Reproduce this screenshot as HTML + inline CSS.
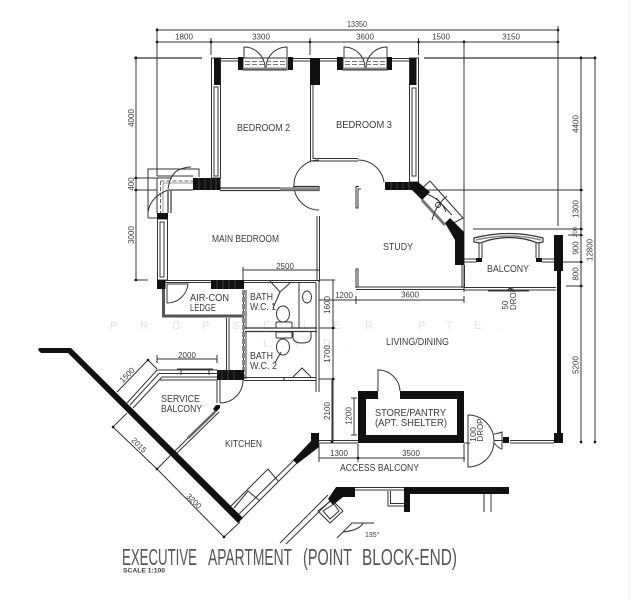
<!DOCTYPE html>
<html><head><meta charset="utf-8"><style>
html,body{margin:0;padding:0;background:#fff}
svg{display:block;filter:blur(.35px)}
text{font-family:"Liberation Sans",sans-serif;fill:#3c3c3c}
.r{font-size:10px}
.d{font-size:8px}
.t{font-size:23px;fill:#555}
</style></head><body>
<svg width="630" height="600" viewBox="0 0 630 600" xmlns="http://www.w3.org/2000/svg">
<rect width="630" height="600" fill="#fff"/>
<line x1="629.5" y1="0" x2="629.5" y2="600" stroke="#eee"/>
<!-- watermark -->
<text x="110 140 172 202 232 263 293 303 333 365 418 446 474 500" y="329" font-size="11" style="fill:#e2e2e2">PROPSELLERPTE.</text>
<text x="263 293 323 347" y="347" font-size="11" style="fill:#e2e2e2">LTD.</text>

<!-- dimension lines -->
<g stroke="#333" stroke-width="1" fill="none">
<path d="M157 30H558M157 42H558M157 28V176M558 26V226M464 40V292M211 38V55M310 38V55M418.500 38V55"/>
<path d="M134 58H202M424 58H595" stroke-width="1.300"/>
<path d="M136 56V280M134 178H172M134 190H157M134 280H148"/>
<path d="M581 56V442M595 56V442M426 190H583M473 229H583M568 235H583M556 262H583M566 286H583"/>
<path d="M243 270H319M243 267V283M333 280V442M319 280H335M319 328H335M319 379H335M319 300H356M356 296V304M356 300H464M464 296V303M332 440V380"/>
<path d="M319 458H465M319 444V462M358 444V462M464 444V462M354 398V435M351 398H357M351 435H357"/>
<path d="M157 359H217M157 355V363M217 355V363M148 360L117 392M148 360L157 369M113 427L157 469L224 537M113 427L127 413M157 469L173 453M224 537L240 522"/>
<path d="M337 538L352 523H374M343 532Q360 530 363 523"/>
</g>
<g fill="#111">
<circle cx="157" cy="30" r="1.300"/><circle cx="157" cy="42" r="1.300"/><circle cx="558" cy="30" r="1.300"/><circle cx="558" cy="42" r="1.300"/><circle cx="464" cy="42" r="1.300"/><circle cx="211" cy="42" r="1.300"/><circle cx="310" cy="42" r="1.300"/><circle cx="418.500" cy="42" r="1.300"/>
<circle cx="136" cy="58" r="1.300"/><circle cx="136" cy="178" r="1.300"/><circle cx="136" cy="190" r="1.300"/><circle cx="136" cy="280" r="1.300"/>
<circle cx="581" cy="58" r="1.300"/><circle cx="595" cy="58" r="1.300"/><circle cx="581" cy="190" r="1.300"/><circle cx="581" cy="229" r="1.300"/><circle cx="581" cy="235" r="1.300"/><circle cx="581" cy="262" r="1.300"/><circle cx="581" cy="286" r="1.300"/><circle cx="581" cy="442" r="1.300"/><circle cx="595" cy="442" r="1.300"/>
<circle cx="333" cy="328" r="1.300"/><circle cx="333" cy="379" r="1.300"/><circle cx="332" cy="442" r="1.300"/><circle cx="358" cy="458" r="1.300"/><circle cx="157" cy="469" r="1.300"/><circle cx="113" cy="427" r="1.300"/><circle cx="224" cy="537" r="1.300"/><circle cx="148" cy="360" r="1.300"/>
</g>

<!-- wall lines -->
<g stroke="#333" stroke-width="1" fill="none">
<!-- top walls -->
<path d="M220 58.500H238M220 61H238M293 58.500H310M293 61H310M320 58.500H337M320 61H337M392 58.500H410M392 61H410"/>
<rect x="243" y="58" width="44" height="12"/><rect x="343" y="58" width="44" height="12"/>
<path d="M244 58V47A21 21 0 0 1 265 68M287 58V47A21 21 0 0 0 266 68M344 58V47A21 21 0 0 1 365 68M387 58V47A21 21 0 0 0 366 68"/>
<path d="M245 61.500H286M245 64.500H286M345 61.500H386M345 64.500H386" stroke-dasharray="5 2" stroke="#777"/>
<path d="M243 68.500H287M343 68.500H387" stroke="#888" stroke-width="2"/>
<!-- side windows -->
<rect x="211.500" y="58" width="9" height="120"/><rect x="214" y="87" width="4" height="89"/>
<rect x="409.500" y="58" width="9" height="124"/><rect x="412" y="88" width="4" height="88"/>
<!-- bedroom divide -->
<path d="M310.500 85V161H358M313 85V158.500H358"/>
<path d="M319 160A25 25 0 0 0 319 210M358 160A26 26 0 0 1 384 182"/>
<path d="M220 188H293M220 190.500H319V186.500H293" stroke-width="1.200"/>
<path d="M280 189H319" stroke="#888" stroke-width="3"/>
<path d="M359 186.500H356V208H358V189H361M356 288V269H358V287"/>
<path d="M317 216V280M319.500 216V282"/>
<!-- NW corner -->
<path d="M148 218V169H199V177M148 218H168"/>
<path d="M157 176H193M157 178V213"/>
<path d="M168 191V213M171 190V213M168 190H193" stroke="#666" stroke-width="1.600"/>
<path d="M160.500 181V213M160.500 181H193" stroke="#666" stroke-dasharray="4 2"/>
<path d="M163 183H193M163 183V213" stroke="#999"/>
<path d="M191 167C175 168 170 175 168 189M148 212C150 200 158 194 168 190"/>
<rect x="157.500" y="219" width="10" height="61"/><rect x="160" y="222" width="4" height="55"/>
<!-- air con -->
<path d="M165 280.500H319M165 282.500H316" stroke-width="1"/>
<path d="M167 303V284H188A21 21 0 0 1 167 303"/>
<path d="M163.500 289V316H244" stroke="#555" stroke-width="3"/>
<path d="M179 317H205" stroke="#444" stroke-dasharray="2 1"/>
<!-- bath -->
<path d="M243.500 290V380M246 290V329M246 332V379" stroke-width="1"/>
<path d="M243.500 290V380" stroke="#888" stroke-width="3" stroke-dasharray="5 2"/>
<path d="M316 283V392M319 280V392M299 283V328"/>
<path d="M245 328H317M245 331.500H317" stroke-width="1.200"/>
<path d="M226.500 318V370M229 318V370"/>
<ellipse cx="307" cy="297" rx="4.500" ry="6"/>
<path d="M270 281L280 292 290 283M280 292L273 308"/>
<ellipse cx="283" cy="314" rx="6.500" ry="8" fill="#fff"/>
<rect x="276" y="322" width="16" height="6" rx="1" fill="#fff"/>
<rect x="276" y="332" width="16" height="6" rx="1" fill="#fff"/>
<ellipse cx="283" cy="347" rx="6.500" ry="8" fill="#fff"/>
<path d="M293 331V337Q293 343 302 343Q311 343 311 337V331"/>
<path d="M275 363L281 352"/>
<path d="M293 377L302 368 311 377"/>
<path d="M244 377.500H316M244 380.500H316M284 378V381" stroke-width="1.100"/>
<!-- service balcony -->
<path d="M217 370H157L127 403M217 373.500H159L130 405M217 377H162L133 408M217 380H160"/>
<path d="M177 369.500H213" stroke="#333" stroke-width="2"/>
<path d="M181 370V375M209 370V375"/>
<path d="M217 380V403M220 380V403"/>
<path d="M243 380A23 23 0 0 1 220 403"/>
<path d="M216 410L174 452M219 412L177 453"/>
<path d="M215 412L188 438" stroke="#666" stroke-width="2.500"/>
<!-- kitchen SE -->
<path d="M242 518L297 463M239 514L295 459M231 506L268 469L278 481M234 508L248 491L260 501"/>
<!-- access balcony -->
<path d="M319 440.500H358M319 443H358M470 440.500H508M510 440.500H554M510 443H554"/>
<path d="M378 391V370A22 22 0 0 1 400 391"/>
<!-- drop door -->
<path d="M468 415A26 26 0 0 1 468 467ZM468 415V467" fill="#fff"/>
<path d="M494 434Q500 433 502 432V449Q498 448 494 443"/>
<path d="M464 443H470"/>
<!-- NE bay window -->
<path d="M430 181L463 218L450 225M430 181L421 189M436 198L452 215"/>
<path d="M422 200L445 225" stroke="#777" stroke-width="3"/>
<path d="M427 194Q442 200 446 212M447 196Q436 205 432 220"/>
<circle cx="438" cy="205" r="2.500"/>
<!-- study -->
<path d="M356 287H464M356 289.500H464M462 265V288M464.500 265V288M464 287.500H556M464 290H556"/>
<path d="M464 259H476M464 262H476M542 259H554M542 262H554"/>
<path d="M479 243V258M482 243V258M536 243V258M539 243V258"/>
<path d="M488 291H529M507 291Q510 286 513 291"/>
<!-- balcony rail -->
<path d="M474 238V242L480 243Q509 232 538 243L543 242V238Q509 229 474 238Z" fill="#fff" stroke-width="1.200"/>
<path d="M476 240Q509 232 541 240" stroke="#888" stroke-width="1.500"/>
<!-- bottom fragment -->
<path d="M350 487.500H404M350 490H404M388 491V506H404M390.500 491V503.500H404M484 494V512M491 494V512"/>
<path d="M328 495L280 543M332 499L286 544"/>
<path d="M332 500L343 511L330 523L318 511Z"/>
<path d="M334 504L339 511L330 519L323 511Z"/>
</g>

<!-- solid black -->
<g fill="#111">
<rect x="214" y="58" width="6.500" height="27"/>
<rect x="238" y="57" width="5" height="13"/><rect x="288" y="57" width="5" height="13"/>
<rect x="337" y="57" width="5.500" height="13"/><rect x="387" y="57" width="5" height="13"/>
<rect x="310" y="58" width="10" height="27"/>
<rect x="410" y="58" width="6.500" height="27"/>
<rect x="193" y="178" width="27.500" height="12"/>
<rect x="157" y="213" width="11" height="6"/>
<rect x="157" y="280" width="8.500" height="9"/>
<rect x="211" y="280" width="33" height="9"/>
<rect x="217" y="370" width="27" height="10"/>
<polygon points="385,182 418,182 430,192 422,200 412,190 385,190"/>
<polygon points="445,223 450,218 464,232 464,265 455,265 455,240"/>
<polygon points="216,405 220,405 220,408 216,412 213,409"/>
<rect x="476" y="258" width="6" height="4"/><rect x="536" y="258" width="6" height="4"/>
<rect x="554" y="235" width="9" height="36"/>
<rect x="557" y="271" width="4" height="163"/>
<rect x="554" y="433" width="9" height="10"/>
<rect x="503" y="437" width="6" height="6"/>
<polygon points="39,348 71,348 243,518 238,523 68,353 41,353 38,350"/>
<polygon points="311,433 319,433 319,447 297,464 293,460 311,441"/>
<path d="M358 391H378V399H366V435H457V399H400V391H464V443H358Z"/>
<polygon points="336,487 350,487 350,497 343,497 333,505 328,499"/>
<rect x="350" y="487" width="5" height="10"/>
<rect x="404" y="487" width="105" height="7"/>
<rect x="404" y="487" width="6" height="25"/>
</g>
<!-- hatch ticks on black -->
<g stroke="#666" stroke-width=".5">
<path d="M199 178V190M205 178V190M211 178V190M216 178V190M222 370V380M228 370V380M234 370V380M217 280V289M223 280V289M229 280V289M235 280V289M391 182V190M397 182V190M403 182V190M409 182V190"/>
</g>

<!-- dim text -->
<g class="d">
<text x="347" y="27" textLength="20" lengthAdjust="spacingAndGlyphs" class="d">13350</text>
<text x="184" y="39.500" text-anchor="middle" class="d">1800</text>
<text x="261" y="39.500" text-anchor="middle" class="d">3300</text>
<text x="365" y="39.500" text-anchor="middle" class="d">3600</text>
<text x="441" y="39.500" text-anchor="middle" class="d">1500</text>
<text x="511" y="39.500" text-anchor="middle" class="d">3150</text>
<text x="285" y="269" text-anchor="middle" class="d">2500</text>
<text x="344" y="298" text-anchor="middle" class="d">1200</text>
<text x="410" y="297.500" text-anchor="middle" class="d">3600</text>
<text x="187" y="358" text-anchor="middle" class="d">2000</text>
<text x="339" y="456" text-anchor="middle" class="d">1300</text>
<text x="411" y="456" text-anchor="middle" class="d">3500</text>
<text transform="translate(134,118) rotate(-90)" text-anchor="middle" class="d">4000</text>
<text transform="translate(134,184) rotate(-90)" text-anchor="middle" class="d">400</text>
<text transform="translate(134,235) rotate(-90)" text-anchor="middle" class="d">3000</text>
<text transform="translate(578.500,124) rotate(-90)" text-anchor="middle" class="d">4400</text>
<text transform="translate(578.500,209) rotate(-90)" text-anchor="middle" class="d">1300</text>
<text transform="translate(577,232) rotate(-90)" text-anchor="middle" font-size="6">200</text>
<text transform="translate(578.500,248) rotate(-90)" text-anchor="middle" class="d">900</text>
<text transform="translate(578.500,274) rotate(-90)" text-anchor="middle" class="d">800</text>
<text transform="translate(592.500,250) rotate(-90)" text-anchor="middle" class="d">12800</text>
<text transform="translate(578.500,365) rotate(-90)" text-anchor="middle" class="d">5200</text>
<text transform="translate(330,305) rotate(-90)" text-anchor="middle" class="d">1600</text>
<text transform="translate(330,354) rotate(-90)" text-anchor="middle" class="d">1700</text>
<text transform="translate(330,411) rotate(-90)" text-anchor="middle" class="d">2100</text>
<text transform="translate(351.500,416) rotate(-90)" text-anchor="middle" class="d">1200</text>
<text transform="translate(508,305) rotate(-90)" text-anchor="middle" class="d">50</text>
<text transform="translate(516,298.500) rotate(-90)" text-anchor="middle" font-size="8" textLength="23" lengthAdjust="spacingAndGlyphs">DROP</text>
<text transform="translate(476,434.500) rotate(-90)" text-anchor="middle" font-size="8" textLength="15" lengthAdjust="spacingAndGlyphs">100</text>
<text transform="translate(483,430) rotate(-90)" text-anchor="middle" font-size="8" textLength="23" lengthAdjust="spacingAndGlyphs">DROP</text>
<text transform="translate(129,377) rotate(-45)" text-anchor="middle" class="d">1500</text>
<text transform="translate(137,447) rotate(45)" text-anchor="middle" class="d">2015</text>
<text transform="translate(192,503) rotate(45)" text-anchor="middle" class="d">3200</text>
<text x="365" y="537" font-size="7">135°</text>
</g>

<!-- room labels -->
<g>
<text x="237" y="131" class="r" textLength="53" lengthAdjust="spacingAndGlyphs">BEDROOM 2</text>
<text x="336" y="128" class="r" textLength="56" lengthAdjust="spacingAndGlyphs">BEDROOM 3</text>
<text x="212" y="242" class="r" textLength="67" lengthAdjust="spacingAndGlyphs">MAIN BEDROOM</text>
<text x="190" y="301" class="r" textLength="39" lengthAdjust="spacingAndGlyphs">AIR-CON</text>
<text x="190" y="311" class="r" textLength="26" lengthAdjust="spacingAndGlyphs">LEDGE</text>
<text x="250" y="300" class="r" textLength="23" lengthAdjust="spacingAndGlyphs">BATH</text>
<text x="250" y="310" class="r" textLength="26" lengthAdjust="spacingAndGlyphs">W.C. 1</text>
<text x="250" y="359" class="r" textLength="23" lengthAdjust="spacingAndGlyphs">BATH</text>
<text x="250" y="369" class="r" textLength="27" lengthAdjust="spacingAndGlyphs">W.C. 2</text>
<text x="383" y="250" class="r" textLength="30" lengthAdjust="spacingAndGlyphs">STUDY</text>
<text x="487" y="272" class="r" textLength="42" lengthAdjust="spacingAndGlyphs">BALCONY</text>
<text x="386" y="345" class="r" textLength="63" lengthAdjust="spacingAndGlyphs">LIVING/DINING</text>
<text x="161" y="402" class="r" textLength="39" lengthAdjust="spacingAndGlyphs">SERVICE</text>
<text x="161" y="412" class="r" textLength="41" lengthAdjust="spacingAndGlyphs">BALCONY</text>
<text x="225" y="447" class="r" textLength="37" lengthAdjust="spacingAndGlyphs">KITCHEN</text>
<text x="375" y="416" class="r" textLength="71" lengthAdjust="spacingAndGlyphs">STORE/PANTRY</text>
<text x="375" y="426" class="r" textLength="72" lengthAdjust="spacingAndGlyphs">(APT. SHELTER)</text>
<text x="340" y="471" class="r" textLength="79" lengthAdjust="spacingAndGlyphs">ACCESS BALCONY</text>
<text x="122" y="565" class="t" textLength="75" lengthAdjust="spacingAndGlyphs">EXECUTIVE</text>
<text x="208" y="565" class="t" textLength="84" lengthAdjust="spacingAndGlyphs">APARTMENT</text>
<text x="303" y="565" class="t" textLength="49" lengthAdjust="spacingAndGlyphs">(POINT</text>
<text x="362" y="565" class="t" textLength="95" lengthAdjust="spacingAndGlyphs">BLOCK-END)</text>
<text x="123" y="572.500" font-size="6.500" font-weight="bold" textLength="42" lengthAdjust="spacingAndGlyphs">SCALE 1:100</text>
</g>
</svg>
</body></html>
